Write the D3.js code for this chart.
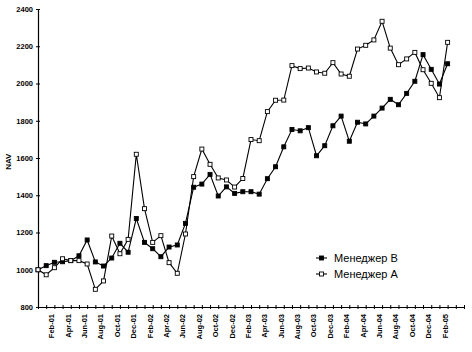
<!DOCTYPE html>
<html>
<head>
<meta charset="utf-8">
<script src="https://cdn.jsdelivr.net/npm/d3@7"></script>
<style>
  body { margin: 0; background: #fff; }
  text { font-family: "Liberation Sans", Arial, sans-serif; }
</style>
</head>
<body>
<div id="chart"></div>
<script>
// monthly NAV, Jan-01 .. Mar-05
var monthNames = ['Jan','Feb','Mar','Apr','May','Jun','Jul','Aug','Sep','Oct','Nov','Dec'];
var years = ['01','02','03','04','05'];
var months = [];
years.forEach(function(y) {
  monthNames.forEach(function(m) { months.push(m + '-' + y); });
});
months = months.slice(0, 53); // axis runs to May-05, data ends Mar-05

var managerB = [1000,1022,1040,1043,1049,1075,1160,1042,1020,1063,1142,1094,1275,
  1147,1113,1070,1122,1133,1249,1443,1460,1512,1396,1445,1410,
  1419,1419,1406,1489,1553,1660,1753,1746,1763,1612,1666,1773,
  1825,1690,1792,1783,1825,1868,1915,1886,1947,2012,2155,2076,1997,2106];

var managerA = [1000,973,1011,1059,1049,1049,1031,895,940,1181,1086,1163,1620,
  1328,1147,1183,1038,981,1192,1500,1648,1566,1493,1482,1444,
  1490,1699,1693,1849,1910,1911,2096,2080,2083,2062,2055,2112,
  2051,2039,2185,2205,2234,2334,2190,2101,2132,2167,2074,2001,1924,2221];

var yTicks = [800,1000,1200,1400,1600,1800,2000,2200,2400];

var width = 472, height = 352;
var svg = d3.select('#chart').append('svg')
  .attr('width', width)
  .attr('height', height);

var x = d3.scaleLinear()
  .domain([0, months.length - 1])
  .range([38, 464]);
var y = d3.scaleLinear()
  .domain([800, 2400])
  .range([307, 9]);

// y axis
var yAxis = d3.axisLeft(y)
  .tickValues(yTicks)
  .tickSize(2)
  .tickFormat(d3.format('d'));
var gy = svg.append('g')
  .attr('transform', 'translate(38,0)')
  .call(yAxis);
gy.select('.domain').attr('stroke', '#000').attr('stroke-width', 1.2);
gy.selectAll('.tick line').attr('x2', 2).attr('x1', -2);
gy.selectAll('.tick text')
  .attr('x', -5)
  .style('font-size', '7.5px')
  .style('font-weight', 'bold')
  .attr('fill', '#000');

// x axis
var xAxis = d3.axisBottom(x)
  .ticks(months.length)
  .tickValues(d3.range(months.length))
  .tickSize(2)
  .tickFormat('');
var gx = svg.append('g')
  .attr('transform', 'translate(0,307)')
  .call(xAxis);
gx.select('.domain').attr('stroke', '#000').attr('stroke-width', 1);
gx.selectAll('.tick line').attr('y1', -2).attr('y2', 2);

svg.append('g')
  .selectAll('text')
  .data(months.filter(function(d, i) { return i % 2 === 1 && i < 51; }))
  .enter().append('text')
  .attr('transform', function(d) {
    return 'translate(' + (x(months.indexOf(d)) + 5.5) + ',314) rotate(-90)';
  })
  .attr('dy', '0.35em')
  .attr('text-anchor', 'end')
  .style('font-size', '7.5px')
  .style('font-weight', 'bold')
  .text(function(d) { return d; });

svg.append('text')
  .attr('transform', 'translate(8,' + y(1580) + ') rotate(-90)')
  .attr('dy', '0.35em')
  .attr('text-anchor', 'middle')
  .style('font-size', '8px')
  .style('font-weight', 'bold')
  .text('NAV');

var line = d3.line()
  .x(function(d, i) { return x(i); })
  .y(function(d) { return y(d); });

function drawSeries(values, fill) {
  svg.append('path')
    .datum(values)
    .attr('fill', 'none')
    .attr('stroke', '#000')
    .attr('stroke-width', 1.1)
    .attr('d', line);
  svg.append('g')
    .selectAll('rect')
    .data(values).enter()
    .append('rect')
    .attr('x', function(d, i) { return x(i) - 2; })
    .attr('y', function(d) { return y(d) - 2; })
    .attr('width', 4)
    .attr('height', 4)
    .attr('fill', fill)
    .attr('stroke', '#000')
    .attr('stroke-width', 0.9);
}

drawSeries(managerB, '#000');
drawSeries(managerA, '#fff');

// legend
var legend = [
  { name: 'Менеджер B', fill: '#000' },
  { name: 'Менеджер A', fill: '#fff' }
];
var lg = svg.append('g').selectAll('g')
  .data(legend).enter()
  .append('g')
  .attr('transform', function(d, i) { return 'translate(316,' + (258 + i * 16) + ')'; });
lg.append('line')
  .attr('x1', 0).attr('x2', 11)
  .attr('stroke', '#000').attr('stroke-width', 1.1);
lg.append('rect')
  .attr('x', 3.5).attr('y', -2)
  .attr('width', 4).attr('height', 4)
  .attr('fill', function(d) { return d.fill; })
  .attr('stroke', '#000').attr('stroke-width', 0.9);
lg.append('text')
  .attr('x', 18)
  .attr('dy', '0.35em')
  .style('font-size', '11px')
  .text(function(d) { return d.name; });
</script>
</body>
</html>
